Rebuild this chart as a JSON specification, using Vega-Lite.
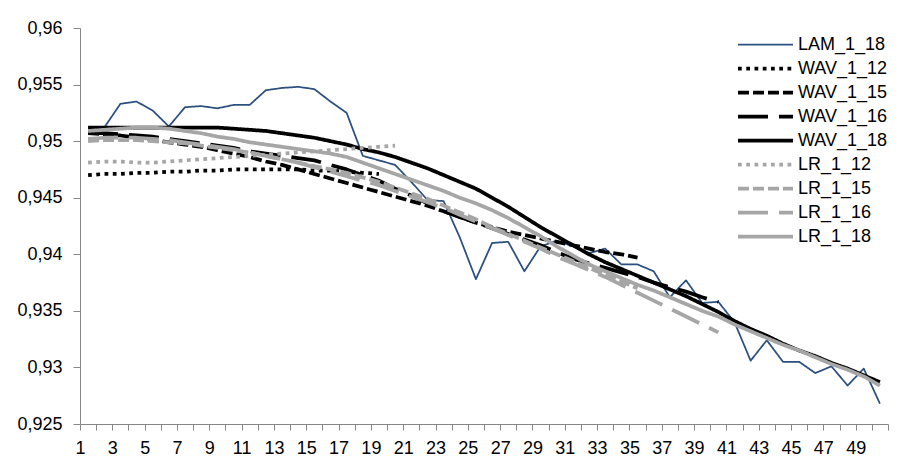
{
  "$schema": "https://vega.github.io/schema/vega-lite/v6.json",
  "width": 808,
  "height": 396,
  "autosize": {"type": "none"},
  "padding": {"left": 80, "top": 28, "right": 9, "bottom": 37},
  "background": "white",
  "config": {
    "view": {"stroke": null},
    "font": "Liberation Sans",
    "axis": {"labelFont": "Liberation Sans", "labelFontSize": 18, "labelColor": "#000000", "domainColor": "#868686", "tickColor": "#868686", "grid": false, "title": null}
  },
  "data": {
    "values": [
      {"s":"LAM_1_18","x":1,"v":0.9512},{"s":"LAM_1_18","x":2,"v":0.9512},{"s":"LAM_1_18","x":3,"v":0.9533},{"s":"LAM_1_18","x":4,"v":0.9535},{"s":"LAM_1_18","x":5,"v":0.9527},{"s":"LAM_1_18","x":6,"v":0.9513},{"s":"LAM_1_18","x":7,"v":0.953},{"s":"LAM_1_18","x":8,"v":0.9531},{"s":"LAM_1_18","x":9,"v":0.9529},{"s":"LAM_1_18","x":10,"v":0.9532},
      {"s":"LAM_1_18","x":11,"v":0.9532},{"s":"LAM_1_18","x":12,"v":0.9545},{"s":"LAM_1_18","x":13,"v":0.9547},{"s":"LAM_1_18","x":14,"v":0.9548},{"s":"LAM_1_18","x":15,"v":0.9546},{"s":"LAM_1_18","x":16,"v":0.9535},{"s":"LAM_1_18","x":17,"v":0.9525},{"s":"LAM_1_18","x":18,"v":0.9487},{"s":"LAM_1_18","x":19,"v":0.9483},{"s":"LAM_1_18","x":20,"v":0.9479},
      {"s":"LAM_1_18","x":21,"v":0.9464},{"s":"LAM_1_18","x":22,"v":0.9448},{"s":"LAM_1_18","x":23,"v":0.9447},{"s":"LAM_1_18","x":24,"v":0.9415},{"s":"LAM_1_18","x":25,"v":0.9378},{"s":"LAM_1_18","x":26,"v":0.941},{"s":"LAM_1_18","x":27,"v":0.9411},{"s":"LAM_1_18","x":28,"v":0.9385},{"s":"LAM_1_18","x":29,"v":0.9407},{"s":"LAM_1_18","x":30,"v":0.9412},
      {"s":"LAM_1_18","x":31,"v":0.9407},{"s":"LAM_1_18","x":32,"v":0.9401},{"s":"LAM_1_18","x":33,"v":0.9405},{"s":"LAM_1_18","x":34,"v":0.9391},{"s":"LAM_1_18","x":35,"v":0.9391},{"s":"LAM_1_18","x":36,"v":0.9385},{"s":"LAM_1_18","x":37,"v":0.9362},{"s":"LAM_1_18","x":38,"v":0.9377},{"s":"LAM_1_18","x":39,"v":0.9357},{"s":"LAM_1_18","x":40,"v":0.9358},
      {"s":"LAM_1_18","x":41,"v":0.934},{"s":"LAM_1_18","x":42,"v":0.9306},{"s":"LAM_1_18","x":43,"v":0.9324},{"s":"LAM_1_18","x":44,"v":0.9305},{"s":"LAM_1_18","x":45,"v":0.9305},{"s":"LAM_1_18","x":46,"v":0.9295},{"s":"LAM_1_18","x":47,"v":0.9301},{"s":"LAM_1_18","x":48,"v":0.9284},{"s":"LAM_1_18","x":49,"v":0.9299},{"s":"LAM_1_18","x":50,"v":0.9268},

      {"s":"WAV_1_12","x":1,"v":0.947},{"s":"WAV_1_12","x":2,"v":0.9471},{"s":"WAV_1_12","x":3,"v":0.9471},{"s":"WAV_1_12","x":4,"v":0.9472},{"s":"WAV_1_12","x":5,"v":0.9472},{"s":"WAV_1_12","x":6,"v":0.9473},{"s":"WAV_1_12","x":7,"v":0.9473},{"s":"WAV_1_12","x":8,"v":0.9474},{"s":"WAV_1_12","x":9,"v":0.9474},{"s":"WAV_1_12","x":10,"v":0.9475},
      {"s":"WAV_1_12","x":11,"v":0.9475},{"s":"WAV_1_12","x":12,"v":0.9475},{"s":"WAV_1_12","x":13,"v":0.9475},{"s":"WAV_1_12","x":14,"v":0.9475},{"s":"WAV_1_12","x":15,"v":0.9474},{"s":"WAV_1_12","x":16,"v":0.9474},{"s":"WAV_1_12","x":17,"v":0.9473},{"s":"WAV_1_12","x":18,"v":0.9472},{"s":"WAV_1_12","x":19,"v":0.9471},

      {"s":"WAV_1_15","x":1,"v":0.9507},{"s":"WAV_1_15","x":2,"v":0.9506},{"s":"WAV_1_15","x":3,"v":0.9505},{"s":"WAV_1_15","x":4,"v":0.9503},{"s":"WAV_1_15","x":5,"v":0.9501},{"s":"WAV_1_15","x":6,"v":0.9499},{"s":"WAV_1_15","x":7,"v":0.9497},{"s":"WAV_1_15","x":8,"v":0.9495},{"s":"WAV_1_15","x":9,"v":0.9492},{"s":"WAV_1_15","x":10,"v":0.9489},
      {"s":"WAV_1_15","x":11,"v":0.9486},{"s":"WAV_1_15","x":12,"v":0.9482},{"s":"WAV_1_15","x":13,"v":0.9479},{"s":"WAV_1_15","x":14,"v":0.9475},{"s":"WAV_1_15","x":15,"v":0.9471},{"s":"WAV_1_15","x":16,"v":0.9467},{"s":"WAV_1_15","x":17,"v":0.9463},{"s":"WAV_1_15","x":18,"v":0.9459},{"s":"WAV_1_15","x":19,"v":0.9455},{"s":"WAV_1_15","x":20,"v":0.9451},
      {"s":"WAV_1_15","x":21,"v":0.9447},{"s":"WAV_1_15","x":22,"v":0.9443},{"s":"WAV_1_15","x":23,"v":0.9438},{"s":"WAV_1_15","x":24,"v":0.9433},{"s":"WAV_1_15","x":25,"v":0.9428},{"s":"WAV_1_15","x":26,"v":0.9424},{"s":"WAV_1_15","x":27,"v":0.942},{"s":"WAV_1_15","x":28,"v":0.9417},{"s":"WAV_1_15","x":29,"v":0.9414},{"s":"WAV_1_15","x":30,"v":0.9411},
      {"s":"WAV_1_15","x":31,"v":0.9408},{"s":"WAV_1_15","x":32,"v":0.9405},{"s":"WAV_1_15","x":33,"v":0.9402},{"s":"WAV_1_15","x":34,"v":0.94},{"s":"WAV_1_15","x":35,"v":0.9397},

      {"s":"WAV_1_16","x":1,"v":0.9507},{"s":"WAV_1_16","x":2,"v":0.9507},{"s":"WAV_1_16","x":3,"v":0.9506},{"s":"WAV_1_16","x":4,"v":0.9505},{"s":"WAV_1_16","x":5,"v":0.9504},{"s":"WAV_1_16","x":6,"v":0.9502},{"s":"WAV_1_16","x":7,"v":0.95},{"s":"WAV_1_16","x":8,"v":0.9498},{"s":"WAV_1_16","x":9,"v":0.9496},{"s":"WAV_1_16","x":10,"v":0.9494},
      {"s":"WAV_1_16","x":11,"v":0.9491},{"s":"WAV_1_16","x":12,"v":0.9489},{"s":"WAV_1_16","x":13,"v":0.9487},{"s":"WAV_1_16","x":14,"v":0.9485},{"s":"WAV_1_16","x":15,"v":0.9483},{"s":"WAV_1_16","x":16,"v":0.9479},{"s":"WAV_1_16","x":17,"v":0.9475},{"s":"WAV_1_16","x":18,"v":0.947},{"s":"WAV_1_16","x":19,"v":0.9465},{"s":"WAV_1_16","x":20,"v":0.9458},
      {"s":"WAV_1_16","x":21,"v":0.9452},{"s":"WAV_1_16","x":22,"v":0.9445},{"s":"WAV_1_16","x":23,"v":0.9438},{"s":"WAV_1_16","x":24,"v":0.9433},{"s":"WAV_1_16","x":25,"v":0.9428},{"s":"WAV_1_16","x":26,"v":0.9423},{"s":"WAV_1_16","x":27,"v":0.9418},{"s":"WAV_1_16","x":28,"v":0.9413},{"s":"WAV_1_16","x":29,"v":0.9408},{"s":"WAV_1_16","x":30,"v":0.9402},
      {"s":"WAV_1_16","x":31,"v":0.9396},{"s":"WAV_1_16","x":32,"v":0.9392},{"s":"WAV_1_16","x":33,"v":0.9388},{"s":"WAV_1_16","x":34,"v":0.9384},{"s":"WAV_1_16","x":35,"v":0.938},{"s":"WAV_1_16","x":36,"v":0.9375},{"s":"WAV_1_16","x":37,"v":0.9371},{"s":"WAV_1_16","x":38,"v":0.9367},{"s":"WAV_1_16","x":39,"v":0.9362},{"s":"WAV_1_16","x":40,"v":0.9358},

      {"s":"WAV_1_18","x":1,"v":0.9512},{"s":"WAV_1_18","x":2,"v":0.9512},{"s":"WAV_1_18","x":3,"v":0.9512},{"s":"WAV_1_18","x":4,"v":0.9512},{"s":"WAV_1_18","x":5,"v":0.9512},{"s":"WAV_1_18","x":6,"v":0.9512},{"s":"WAV_1_18","x":7,"v":0.9512},{"s":"WAV_1_18","x":8,"v":0.9512},{"s":"WAV_1_18","x":9,"v":0.9512},{"s":"WAV_1_18","x":10,"v":0.9511},
      {"s":"WAV_1_18","x":11,"v":0.951},{"s":"WAV_1_18","x":12,"v":0.9509},{"s":"WAV_1_18","x":13,"v":0.9507},{"s":"WAV_1_18","x":14,"v":0.9505},{"s":"WAV_1_18","x":15,"v":0.9503},{"s":"WAV_1_18","x":16,"v":0.95},{"s":"WAV_1_18","x":17,"v":0.9497},{"s":"WAV_1_18","x":18,"v":0.9493},{"s":"WAV_1_18","x":19,"v":0.949},{"s":"WAV_1_18","x":20,"v":0.9486},
      {"s":"WAV_1_18","x":21,"v":0.9481},{"s":"WAV_1_18","x":22,"v":0.9476},{"s":"WAV_1_18","x":23,"v":0.947},{"s":"WAV_1_18","x":24,"v":0.9464},{"s":"WAV_1_18","x":25,"v":0.9458},{"s":"WAV_1_18","x":26,"v":0.945},{"s":"WAV_1_18","x":27,"v":0.9442},{"s":"WAV_1_18","x":28,"v":0.9433},{"s":"WAV_1_18","x":29,"v":0.9424},{"s":"WAV_1_18","x":30,"v":0.9416},
      {"s":"WAV_1_18","x":31,"v":0.9408},{"s":"WAV_1_18","x":32,"v":0.94},{"s":"WAV_1_18","x":33,"v":0.9393},{"s":"WAV_1_18","x":34,"v":0.9387},{"s":"WAV_1_18","x":35,"v":0.9381},{"s":"WAV_1_18","x":36,"v":0.9375},{"s":"WAV_1_18","x":37,"v":0.9369},{"s":"WAV_1_18","x":38,"v":0.9363},{"s":"WAV_1_18","x":39,"v":0.9356},{"s":"WAV_1_18","x":40,"v":0.9349},
      {"s":"WAV_1_18","x":41,"v":0.9341},{"s":"WAV_1_18","x":42,"v":0.9334},{"s":"WAV_1_18","x":43,"v":0.9328},{"s":"WAV_1_18","x":44,"v":0.9321},{"s":"WAV_1_18","x":45,"v":0.9315},{"s":"WAV_1_18","x":46,"v":0.931},{"s":"WAV_1_18","x":47,"v":0.9304},{"s":"WAV_1_18","x":48,"v":0.9299},{"s":"WAV_1_18","x":49,"v":0.9293},{"s":"WAV_1_18","x":50,"v":0.9287},

      {"s":"LR_1_12","x":1,"v":0.9481},{"s":"LR_1_12","x":2,"v":0.9482},{"s":"LR_1_12","x":3,"v":0.9482},{"s":"LR_1_12","x":4,"v":0.9481},{"s":"LR_1_12","x":5,"v":0.9481},{"s":"LR_1_12","x":6,"v":0.9482},{"s":"LR_1_12","x":7,"v":0.9483},{"s":"LR_1_12","x":8,"v":0.9484},{"s":"LR_1_12","x":9,"v":0.9485},{"s":"LR_1_12","x":10,"v":0.9486},
      {"s":"LR_1_12","x":11,"v":0.9487},{"s":"LR_1_12","x":12,"v":0.9488},{"s":"LR_1_12","x":13,"v":0.9489},{"s":"LR_1_12","x":14,"v":0.949},{"s":"LR_1_12","x":15,"v":0.9491},{"s":"LR_1_12","x":16,"v":0.9492},{"s":"LR_1_12","x":17,"v":0.9493},{"s":"LR_1_12","x":18,"v":0.9494},{"s":"LR_1_12","x":19,"v":0.9495},{"s":"LR_1_12","x":20,"v":0.9496},

      {"s":"LR_1_15","x":1,"v":0.95},{"s":"LR_1_15","x":2,"v":0.9501},{"s":"LR_1_15","x":3,"v":0.9501},{"s":"LR_1_15","x":4,"v":0.9501},{"s":"LR_1_15","x":5,"v":0.95},{"s":"LR_1_15","x":6,"v":0.9499},{"s":"LR_1_15","x":7,"v":0.9498},{"s":"LR_1_15","x":8,"v":0.9496},{"s":"LR_1_15","x":9,"v":0.9494},{"s":"LR_1_15","x":10,"v":0.9492},
      {"s":"LR_1_15","x":11,"v":0.949},{"s":"LR_1_15","x":12,"v":0.9487},{"s":"LR_1_15","x":13,"v":0.9484},{"s":"LR_1_15","x":14,"v":0.9481},{"s":"LR_1_15","x":15,"v":0.9478},{"s":"LR_1_15","x":16,"v":0.9475},{"s":"LR_1_15","x":17,"v":0.9472},{"s":"LR_1_15","x":18,"v":0.9468},{"s":"LR_1_15","x":19,"v":0.9464},{"s":"LR_1_15","x":20,"v":0.9459},
      {"s":"LR_1_15","x":21,"v":0.9454},{"s":"LR_1_15","x":22,"v":0.9449},{"s":"LR_1_15","x":23,"v":0.9443},{"s":"LR_1_15","x":24,"v":0.9437},{"s":"LR_1_15","x":25,"v":0.9431},{"s":"LR_1_15","x":26,"v":0.9424},{"s":"LR_1_15","x":27,"v":0.9418},{"s":"LR_1_15","x":28,"v":0.9412},{"s":"LR_1_15","x":29,"v":0.9406},{"s":"LR_1_15","x":30,"v":0.94},
      {"s":"LR_1_15","x":31,"v":0.9394},{"s":"LR_1_15","x":32,"v":0.9388},{"s":"LR_1_15","x":33,"v":0.9382},{"s":"LR_1_15","x":34,"v":0.9376},{"s":"LR_1_15","x":35,"v":0.937},

      {"s":"LR_1_16","x":1,"v":0.9502},{"s":"LR_1_16","x":2,"v":0.9503},{"s":"LR_1_16","x":3,"v":0.9503},{"s":"LR_1_16","x":4,"v":0.9503},{"s":"LR_1_16","x":5,"v":0.9502},{"s":"LR_1_16","x":6,"v":0.9501},{"s":"LR_1_16","x":7,"v":0.9499},{"s":"LR_1_16","x":8,"v":0.9497},{"s":"LR_1_16","x":9,"v":0.9495},{"s":"LR_1_16","x":10,"v":0.9493},
      {"s":"LR_1_16","x":11,"v":0.949},{"s":"LR_1_16","x":12,"v":0.9487},{"s":"LR_1_16","x":13,"v":0.9484},{"s":"LR_1_16","x":14,"v":0.9481},{"s":"LR_1_16","x":15,"v":0.9477},{"s":"LR_1_16","x":16,"v":0.9473},{"s":"LR_1_16","x":17,"v":0.9469},{"s":"LR_1_16","x":18,"v":0.9465},{"s":"LR_1_16","x":19,"v":0.9461},{"s":"LR_1_16","x":20,"v":0.9456},
      {"s":"LR_1_16","x":21,"v":0.9451},{"s":"LR_1_16","x":22,"v":0.9446},{"s":"LR_1_16","x":23,"v":0.9441},{"s":"LR_1_16","x":24,"v":0.9435},{"s":"LR_1_16","x":25,"v":0.9429},{"s":"LR_1_16","x":26,"v":0.9423},{"s":"LR_1_16","x":27,"v":0.9417},{"s":"LR_1_16","x":28,"v":0.9411},{"s":"LR_1_16","x":29,"v":0.9405},{"s":"LR_1_16","x":30,"v":0.9398},
      {"s":"LR_1_16","x":31,"v":0.9392},{"s":"LR_1_16","x":32,"v":0.9386},{"s":"LR_1_16","x":33,"v":0.938},{"s":"LR_1_16","x":34,"v":0.9373},{"s":"LR_1_16","x":35,"v":0.9366},{"s":"LR_1_16","x":36,"v":0.9359},{"s":"LR_1_16","x":37,"v":0.9352},{"s":"LR_1_16","x":38,"v":0.9345},{"s":"LR_1_16","x":39,"v":0.9338},{"s":"LR_1_16","x":40,"v":0.9331},

      {"s":"LR_1_18","x":1,"v":0.9509},{"s":"LR_1_18","x":2,"v":0.951},{"s":"LR_1_18","x":3,"v":0.9511},{"s":"LR_1_18","x":4,"v":0.9512},{"s":"LR_1_18","x":5,"v":0.9512},{"s":"LR_1_18","x":6,"v":0.9511},{"s":"LR_1_18","x":7,"v":0.9509},{"s":"LR_1_18","x":8,"v":0.9507},{"s":"LR_1_18","x":9,"v":0.9504},{"s":"LR_1_18","x":10,"v":0.9502},
      {"s":"LR_1_18","x":11,"v":0.9499},{"s":"LR_1_18","x":12,"v":0.9497},{"s":"LR_1_18","x":13,"v":0.9495},{"s":"LR_1_18","x":14,"v":0.9493},{"s":"LR_1_18","x":15,"v":0.9491},{"s":"LR_1_18","x":16,"v":0.9489},{"s":"LR_1_18","x":17,"v":0.9486},{"s":"LR_1_18","x":18,"v":0.9481},{"s":"LR_1_18","x":19,"v":0.9476},{"s":"LR_1_18","x":20,"v":0.9471},
      {"s":"LR_1_18","x":21,"v":0.9466},{"s":"LR_1_18","x":22,"v":0.9461},{"s":"LR_1_18","x":23,"v":0.9456},{"s":"LR_1_18","x":24,"v":0.945},{"s":"LR_1_18","x":25,"v":0.9445},{"s":"LR_1_18","x":26,"v":0.9439},{"s":"LR_1_18","x":27,"v":0.9432},{"s":"LR_1_18","x":28,"v":0.9424},{"s":"LR_1_18","x":29,"v":0.9416},{"s":"LR_1_18","x":30,"v":0.9407},
      {"s":"LR_1_18","x":31,"v":0.9399},{"s":"LR_1_18","x":32,"v":0.9391},{"s":"LR_1_18","x":33,"v":0.9385},{"s":"LR_1_18","x":34,"v":0.9379},{"s":"LR_1_18","x":35,"v":0.9373},{"s":"LR_1_18","x":36,"v":0.9368},{"s":"LR_1_18","x":37,"v":0.9362},{"s":"LR_1_18","x":38,"v":0.9356},{"s":"LR_1_18","x":39,"v":0.935},{"s":"LR_1_18","x":40,"v":0.9345},
      {"s":"LR_1_18","x":41,"v":0.9338},{"s":"LR_1_18","x":42,"v":0.9332},{"s":"LR_1_18","x":43,"v":0.9326},{"s":"LR_1_18","x":44,"v":0.932},{"s":"LR_1_18","x":45,"v":0.9315},{"s":"LR_1_18","x":46,"v":0.9309},{"s":"LR_1_18","x":47,"v":0.9303},{"s":"LR_1_18","x":48,"v":0.9298},{"s":"LR_1_18","x":49,"v":0.9292},{"s":"LR_1_18","x":50,"v":0.9284}
    ]
  },
  "mark": {"type": "line", "strokeCap": "butt", "strokeJoin": "round", "clip": false},
  "encoding": {
    "x": {
      "field": "x", "type": "quantitative",
      "scale": {"domain": [0.5, 50.5], "nice": false, "zero": false},
      "axis": {
        "values": [0.5,1.5,2.5,3.5,4.5,5.5,6.5,7.5,8.5,9.5,10.5,11.5,12.5,13.5,14.5,15.5,16.5,17.5,18.5,19.5,20.5,21.5,22.5,23.5,24.5,25.5,26.5,27.5,28.5,29.5,30.5,31.5,32.5,33.5,34.5,35.5,36.5,37.5,38.5,39.5,40.5,41.5,42.5,43.5,44.5,45.5,46.5,47.5,48.5,49.5,50.5],
        "labelExpr": "((datum.value + 0.5) % 2 == 1 && datum.value < 50) ? format(datum.value + 0.5, 'd') : ''",
        "labelDx": 8.08,
        "labelOverlap": false,
        "labelFlush": false,
        "labelBound": false,
        "tickSize": 6,
        "labelPadding": 9
      }
    },
    "y": {
      "field": "v", "type": "quantitative",
      "scale": {"domain": [0.925, 0.96], "nice": false, "zero": false},
      "axis": {
        "values": [0.925, 0.93, 0.935, 0.94, 0.945, 0.95, 0.955, 0.96],
        "labelExpr": "replace(format(datum.value, '.3~f'), '.', ',')",
        "tickSize": 7,
        "labelPadding": 11
      }
    },
    "color": {
      "field": "s", "type": "nominal",
      "scale": {
        "domain": ["LAM_1_18","WAV_1_12","WAV_1_15","WAV_1_16","WAV_1_18","LR_1_12","LR_1_15","LR_1_16","LR_1_18"],
        "range": ["#2B4F7E","#000000","#000000","#000000","#000000","#A6A6A6","#A6A6A6","#A6A6A6","#A6A6A6"]
      },
      "legend": {
        "title": null,
        "orient": "none",
        "legendX": 674,
        "legendY": 6,
        "padding": 0,
        "symbolType": "M-3,0L3,0",
        "symbolSize": 336,
        "labelFont": "Liberation Sans",
        "labelFontSize": 18,
        "labelColor": "#000000",
        "labelOffset": 21,
        "rowPadding": 3
      }
    },
    "strokeDash": {
      "field": "s", "type": "nominal",
      "scale": {
        "domain": ["LAM_1_18","WAV_1_12","WAV_1_15","WAV_1_16","WAV_1_18","LR_1_12","LR_1_15","LR_1_16","LR_1_18"],
        "range": [[1,0],[3.75,4.5],[11,4],[30,11],[1,0],[3.75,4.5],[11,4],[30,11],[1,0]]
      }
    },
    "strokeWidth": {
      "field": "s", "type": "nominal",
      "scale": {
        "type": "ordinal",
        "domain": ["LAM_1_18","WAV_1_12","WAV_1_15","WAV_1_16","WAV_1_18","LR_1_12","LR_1_15","LR_1_16","LR_1_18"],
        "range": [1.75,3.75,3.75,3.75,3.75,3.75,3.75,3.75,3.75]
      }
    },
    "order": {"field": "x", "type": "quantitative"}
  }
}
